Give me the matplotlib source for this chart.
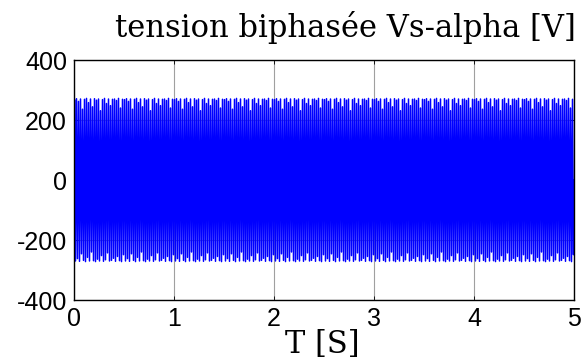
import numpy as np
import matplotlib.pyplot as plt

plt.rcParams["font.family"] = "Liberation Sans"
plt.rcParams["axes.unicode_minus"] = False

# crest values of the alpha-axis voltage, one per half period (V)
crest_pos = [268, 271, 262, 270, 236, 269, 272, 258, 270, 244,
             271, 266, 270, 231, 268, 272, 255, 270, 248, 269,
             270, 265, 272, 240, 269]
crest_neg = [-270, -262, -271, -246, -268, -272, -258, -270, -240, -269,
             -272, -264, -270, -252, -271, -266, -243, -270, -268, -261,
             -271, -255, -269, -272, -249]
n_periods = 250
t_end = 5.0

x_ticks = [0, 1, 2, 3, 4, 5]
y_ticks = [-400, -200, 0, 200, 400]

pos = np.resize(crest_pos, n_periods)
neg = np.resize(crest_neg, n_periods)
v = np.zeros(4 * n_periods + 1)
v[1:-1:4] = pos
v[3::4] = neg
t = np.linspace(0, t_end, len(v))

fig = plt.figure(figsize=(5.87, 3.63), dpi=100)
ax = fig.add_axes([74 / 587, 1 - 300 / 363, 500 / 587, 240 / 363])
ax.plot(t, v, color="#0000ff", linewidth=1.1)

ax.set_xlim(0, 5)
ax.set_ylim(-400, 400)
ax.set_xticks(x_ticks)
ax.set_yticks(y_ticks)
ax.grid(True, color="#a0a0a0", linewidth=0.8)
ax.set_axisbelow(True)
ax.tick_params(direction="in", length=3, width=0.6, top=True, right=True,
               labelsize=18)
ax.tick_params(axis="x", pad=5)
ax.tick_params(axis="y", pad=5)
for s in ax.spines.values():
    s.set_linewidth(1.0)

fig.text(345 / 587, 1 - 37 / 363, "tension biphasée Vs-alpha [V]",
         ha="center", va="baseline", family="DejaVu Serif", fontsize=22)
fig.text(322 / 587, 1 - 353 / 363, "T [S]",
         ha="center", va="baseline", family="DejaVu Serif", fontsize=22)

fig.savefig("out.png", dpi=100)
